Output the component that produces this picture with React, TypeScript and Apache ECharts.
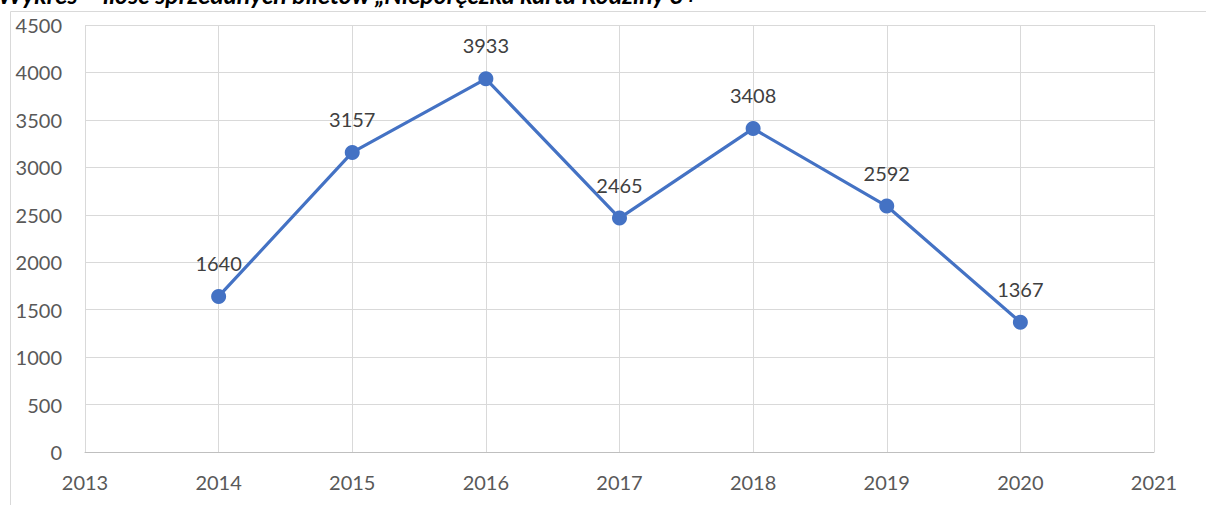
import React, { useEffect, useRef } from "react";
import * as echarts from "echarts";

const years = [2014, 2015, 2016, 2017, 2018, 2019, 2020];
const tickets = [1640, 3157, 3933, 2465, 3408, 2592, 1367];
const titleText = "Wykres – ilość sprzedanych biletów „Nieporęczka karta Rodziny 3+";

export default function App() {
  const ref = useRef<HTMLDivElement>(null);
  useEffect(() => {
    if (!ref.current) return;
    const chart = echarts.init(ref.current, null, { renderer: "svg" });
    const font = "Lato";
    chart.setOption({
      animation: false,
      backgroundColor: "#ffffff",
      textStyle: { fontFamily: font },
      grid: { left: 85, right: 52, top: 25, bottom: 53 },
      graphic: [
        {
          type: "rect",
          shape: { x: 10.5, y: 11.5, width: 1300, height: 600 },
          style: { fill: "none", stroke: "#D9D9D9", lineWidth: 1 },
          z: -1,
        },
        {
          type: "text",
          left: -2,
          top: -19,
          style: {
            text: titleText,
            font: `italic bold 25px ${font}`,
            fill: "#000000",
          },
        },
      ],
      xAxis: {
        type: "value",
        min: 2013,
        max: 2021,
        interval: 1,
        axisLine: { show: true, onZero: false, lineStyle: { color: "#BFBFBF", width: 1 } },
        axisTick: { show: false },
        splitLine: { show: true, lineStyle: { color: "#D9D9D9", width: 1 } },
        axisLabel: {
          color: "#595959",
          fontSize: 20,
          fontFamily: font,
          margin: 20,
          formatter: (v: number) => String(v),
        },
      },
      yAxis: {
        type: "value",
        min: 0,
        max: 4500,
        interval: 500,
        axisLine: { show: false },
        axisTick: { show: false },
        splitLine: { show: true, lineStyle: { color: "#D9D9D9", width: 1 } },
        axisLabel: {
          color: "#595959",
          fontSize: 20,
          fontFamily: font,
          margin: 23,
          formatter: (v: number) => String(v),
        },
      },
      series: [
        {
          type: "line",
          data: years.map((y, i) => [y, tickets[i]]),
          symbol: "circle",
          symbolSize: 15,
          lineStyle: { color: "#4472C4", width: 3.2 },
          itemStyle: { color: "#4472C4" },
          label: {
            show: true,
            position: "top",
            distance: 16,
            color: "#404040",
            fontSize: 20,
            fontFamily: font,
            formatter: (p: any) => String(p.value[1]),
          },
        },
      ],
    });
    return () => chart.dispose();
  }, []);
  return (
    <div
      ref={ref}
      style={{ position: "fixed", left: 0, top: 0, width: 1206, height: 505 }}
    />
  );
}
